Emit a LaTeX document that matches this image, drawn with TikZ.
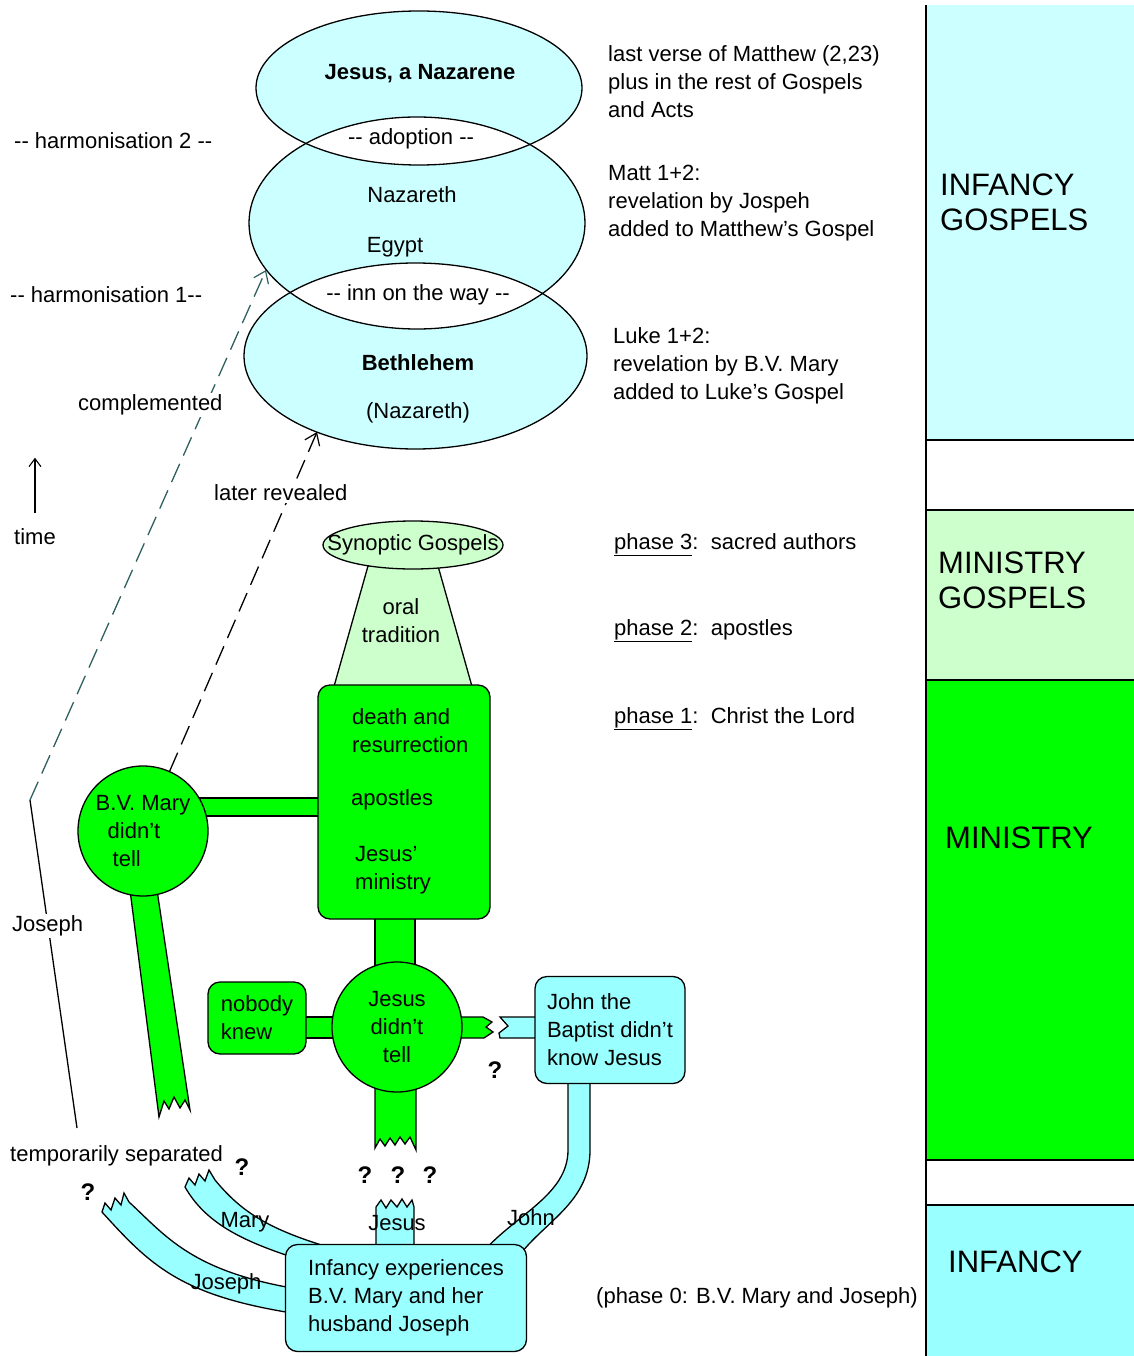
\documentclass[tikz,border=0pt]{standalone}
\usepackage{fontspec}
\defaultfontfeatures{}
\setmainfont{Liberation Sans}
\usetikzlibrary{positioning,arrows.meta,shapes.geometric}

\definecolor{infcyan}{HTML}{CCFFFF}
\definecolor{bandcyan}{HTML}{99FFFF}
\definecolor{gospgreen}{HTML}{CCFFCC}
\definecolor{minigreen}{HTML}{00FF00}
\definecolor{linkteal}{HTML}{2F5F5F}

\newcommand{\twodash}{-\kern0pt-}

\tikzset{
  lbl/.style={font=\fontsize{22}{28}\selectfont,align=left,inner sep=0pt},
  lblw/.style={lbl,anchor=west},
  cutlbl/.style={lblw,fill=white,inner sep=2pt},
  bartxt/.style={font=\fontsize{31}{35}\selectfont,align=left,inner sep=0pt,anchor=west},
  qmark/.style={font=\fontsize{24}{28}\selectfont\bfseries,inner sep=0pt},
  outl/.style={line width=1.3pt},
  greenpart/.style={outl,draw=black,fill=minigreen},
  cyanpart/.style={outl,draw=black,fill=bandcyan},
  roundbox/.style={rounded corners=12pt},
  revealed/.style={line width=1.3pt,dash pattern=on 20pt off 9pt,
    -{Straight Barb[length=11pt,width=16pt,line width=1.2pt]}},
}

\begin{document}
\begin{tikzpicture}[x=1pt,y=-1pt]
\useasboundingbox (0,0) rectangle (1133,1356);

% time column on the right
\fill[infcyan] (926,5) rectangle (1140,440);
\fill[gospgreen] (926,510) rectangle (1140,680);
\fill[minigreen] (926,680) rectangle (1140,1160);
\fill[bandcyan] (926,1205) rectangle (1140,1360);
\foreach \yy in {440,510,680,1160,1205}
  \draw[outl] (926,\yy) -- (1140,\yy);
\draw[outl] (926,5) -- (926,1360);

\node[bartxt] (infgosp) at (940,202) {INFANCY\\GOSPELS};
\node[bartxt] (minigosp) at (938,580) {MINISTRY\\GOSPELS};
\node[bartxt] (ministry bar) at (945,838) {MINISTRY};
\node[bartxt] (infancy bar) at (948,1262) {INFANCY};

% the three traditions
\fill[infcyan] (419,88) ellipse [x radius=163pt,y radius=77pt];
\fill[infcyan] (417,223) ellipse [x radius=168pt,y radius=106pt];
\fill[infcyan] (415.5,356) ellipse [x radius=171.5pt,y radius=93pt];
\begin{scope}
  \clip (419,88) ellipse [x radius=163pt,y radius=77pt];
  \fill[white] (417,223) ellipse [x radius=168pt,y radius=106pt];
\end{scope}
\begin{scope}
  \clip (417,223) ellipse [x radius=168pt,y radius=106pt];
  \fill[white] (415.5,356) ellipse [x radius=171.5pt,y radius=93pt];
\end{scope}
\draw[outl] (419,88) ellipse [x radius=163pt,y radius=77pt];
\draw[outl] (417,223) ellipse [x radius=168pt,y radius=106pt];
\draw[outl] (415.5,356) ellipse [x radius=171.5pt,y radius=93pt];

\node[lbl,font=\fontsize{22}{28}\selectfont\bfseries] (nazarene) at (420,74) {Jesus, a Nazarene};
\node[lbl] (adoption) at (411,139) {\twodash{} adoption \twodash};
\node[lbl] (nazareth) at (412,195) {Nazareth};
\node[lbl] (egypt) at (395,247) {Egypt};
\node[lbl] (inn) at (418,295) {\twodash{} inn on the way \twodash};
\node[lbl,font=\fontsize{22}{28}\selectfont\bfseries] (bethlehem) at (418,363) {Bethlehem};
\node[lbl] (nazareth2) at (418,413) {(Nazareth)};

\coordinate (nazTip) at (266,270);
\coordinate (bethTip) at (317,432);

% notes
\node[lblw] (matthew) at (608,82) {last verse of Matthew (2,23)\\plus in the rest of Gospels\\and Acts};
\node[lblw] (matt12) at (608,203) {Matt 1+2:\\revelation by Jospeh\\added to Matthew's Gospel};
\node[lblw] (luke12) at (613,366) {Luke 1+2:\\revelation by B.V. Mary\\added to Luke's Gospel};
\node[lblw] (phase3) at (614,545) {\underline{phase 3}:\ \ sacred authors};
\node[lblw] (phase2) at (614,631) {\underline{phase 2}:\ \ apostles};
\node[lblw] (phase1) at (614,719) {\underline{phase 1}:\ \ Christ the Lord};
\node[lblw] (phase0) at (596,1298) {(phase 0: B.V. Mary and Joseph)};

\node[lblw] (harm2) at (14,141) {\twodash{} harmonisation 2 \twodash};
\node[lblw] (harm1) at (10,295) {\twodash{} harmonisation 1\twodash};
\node[lblw] (time) at (14,537) {time};
\draw[-{Straight Barb[length=8pt,width=12pt,line width=1.1pt]},line width=1.1pt]
  ([yshift=16pt]time.north) -- ([yshift=71pt]time.north);

% oral tradition
\draw[outl,fill=gospgreen] (368,566) -- (438,566) -- (473,690) -- (333,690) -- cycle;
\draw[outl,fill=gospgreen] (413,545) ellipse [x radius=90pt,y radius=24pt];
\node[lbl] (synoptic) at (413,545) {Synoptic Gospels};
\node[lbl,align=center] (oral) at (401,621) {oral\\tradition};

% green bars
\draw[greenpart] (200,798) rectangle (320,816);
\draw[greenpart] (375,915) rectangle (415,968);
\draw[greenpart] (300,1017) rectangle (338,1038);
\draw[greenpart] (130,890) -- (157,890) -- (190,1110) -- (185,1100) -- (180,1108)
  -- (174,1097) -- (169,1109) -- (164,1101) -- (159,1117) -- cycle;
\draw[greenpart] (375,1085) -- (375,1148) -- (380,1139) -- (385,1146) -- (390,1138)
  -- (395,1145) -- (400,1137) -- (405,1144) -- (410,1137) -- (416,1150) -- (416,1085) -- cycle;
\draw[greenpart] (455,1017) -- (483,1017) -- (492,1022) -- (486,1027) -- (493,1032)
  -- (484,1038) -- (455,1038) -- cycle;

% links upwards
\coordinate (josephFoot) at (77,1128);
\coordinate (josephBend) at (30,800);
\draw[outl] (josephFoot) -- (josephBend);
\draw[revealed,draw=linkteal] (josephBend) -- (nazTip);

\node[greenpart,circle,minimum size=130pt,inner sep=0pt,lbl] (mary) at (143,831)
  {B.V. Mary\\\hspace*{12pt}didn't\\\hspace*{17pt}tell};
\draw[revealed] (mary.66) -- (bethTip);

\node[cutlbl] (complemented) at (76,405) {complemented};
\node[cutlbl] (later) at (212,493) {later revealed};
\node[cutlbl] (josephlbl) at (10,926) {Joseph};

% green nodes
\node[greenpart,roundbox,minimum width=172pt,minimum height=234pt] (apostles) at (404,802) {};
\node[lblw] (death) at (352,731) {death and\\resurrection};
\node[lblw] (apost) at (351,800) {apostles};
\node[lblw] (jministry) at (355,870) {Jesus'\\ministry};
\node[greenpart,roundbox,lbl,minimum width=98pt,minimum height=72pt] (nobody) at (257,1018) {nobody\\knew};
\node[greenpart,circle,lbl,align=center,minimum size=130pt,inner sep=0pt] (jesus) at (397,1027) {Jesus\\didn't\\tell};

% cyan bands
\draw[cyanpart] (540,1017) -- (500,1017) -- (508,1026) -- (499,1033) -- (500,1038)
  -- (540,1038) -- cycle;
\draw[cyanpart] (568,1078) -- (568,1150) .. controls (568,1195) and (515,1215) .. (483,1252)
  -- (522,1252) .. controls (548,1220) and (590,1200) .. (590,1150) -- (590,1078) -- cycle;
\draw[cyanpart] (376,1252) -- (376,1207) -- (381,1200) -- (386,1208) -- (391,1200)
  -- (397,1207) -- (402,1199) -- (407,1207) -- (412,1200) -- (414,1207) -- (414,1252) -- cycle;
\draw[cyanpart] (215,1180) .. controls (240,1210) and (265,1228) .. (328,1247)
  -- (292,1257) .. controls (240,1240) and (205,1222) .. (185,1187)
  -- (189,1178) -- (195,1185) -- (199,1174) -- (205,1181) -- (209,1170) -- cycle;
\draw[cyanpart] (129,1202) .. controls (165,1235) and (190,1270) .. (292,1288)
  -- (292,1313) .. controls (180,1295) and (150,1265) .. (102,1212)
  -- (105,1203) -- (111,1210) -- (115,1198) -- (121,1205) -- (124,1193) -- cycle;

% cyan nodes
\node[cyanpart,roundbox,lbl,minimum width=150pt,minimum height=107pt] (john) at (610,1030) {John the\\Baptist didn't\\know Jesus};
\node[cyanpart,roundbox,lbl,minimum width=241pt,minimum height=107pt] (infancy) at (406,1298) {Infancy experiences\\B.V. Mary and her\\husband Joseph};

\node[lbl] (marylbl) at (245,1222) {Mary};
\node[lbl] (josephband) at (226,1284) {Joseph};
\node[lbl] (jesuslbl) at (397,1223) {Jesus};
\node[lbl] (johnlbl) at (531,1218) {John};
\node[lblw] (separated) at (10,1156) {temporarily separated};

\node[qmark] (qjohn) at (495,1070) {?};
\node[qmark] (qmary) at (242,1167) {?};
\node[qmark] (qjoseph) at (88,1192) {?};
\foreach \qx in {365,398,430}
  \node[qmark] (qjesus\qx) at (\qx,1175) {?};

\end{tikzpicture}
\end{document}
